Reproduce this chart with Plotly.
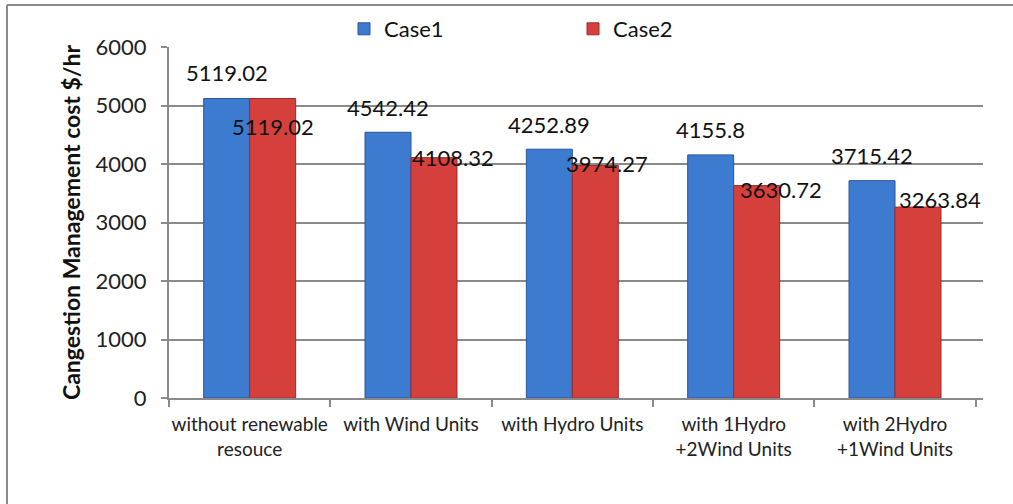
import plotly.graph_objects as go

categories = ["without renewable<br>resouce", "with Wind Units", "with Hydro Units",
              "with 1Hydro<br>+2Wind Units", "with 2Hydro<br>+1Wind Units"]
case1 = [5119.02, 4542.42, 4252.89, 4155.8, 3715.42]
case2 = [5119.02, 4108.32, 3974.27, 3630.72, 3263.84]
series_names = ["Case1", "Case2"]
y_ticks = [0, 1000, 2000, 3000, 4000, 5000, 6000]

# label pixel offsets (style): (dx, dy) relative to bar centre / top
case1_label_shift = [(0, 26), (0, 25), (0, 25), (0, 25), (0, 25)]
case2_label_shift = [(0, -28), (19, 0), (12, 2), (24, -4), (22, 8)]

W, H = 1013, 504
ml, mr, mt, mb = 169, 30, 47, 106
pw, ph = W - ml - mr, H - mt - mb

FONT = "Lato, 'DejaVu Sans', sans-serif"
blue, red = "#3D7BD1", "#D6403C"

fig = go.Figure()
fig.add_trace(go.Bar(x=categories, y=case1, name=series_names[0],
                     marker=dict(color=blue, line=dict(color="#2A5598", width=1))))
fig.add_trace(go.Bar(x=categories, y=case2, name=series_names[1],
                     marker=dict(color=red, line=dict(color="#9E2A27", width=1))))

bar_off = 23
ann = []
for i, c in enumerate(categories):
    dx, dy = case1_label_shift[i]
    ann.append(dict(x=c, y=case1[i], xref="x", yref="y", text=f"{case1[i]:g}",
                    showarrow=False, xshift=-bar_off + dx, yshift=dy,
                    xanchor="center", yanchor="middle",
                    font=dict(family=FONT, size=22, color="#111")))
    dx, dy = case2_label_shift[i]
    ann.append(dict(x=c, y=case2[i], xref="x", yref="y", text=f"{case2[i]:g}",
                    showarrow=False, xshift=bar_off + dx, yshift=dy,
                    xanchor="center", yanchor="middle",
                    font=dict(family=FONT, size=22, color="#111")))

# border: left and top edges visible, extends beyond right/bottom
border_shapes = [
    dict(type="line", xref="paper", yref="paper",
         x0=(7 - ml) / pw, x1=(7 - ml) / pw, y0=(H - mb - (H + 5)) / ph, y1=(H - mb - 5) / ph,
         line=dict(color="#8a8a8a", width=2)),
    dict(type="line", xref="paper", yref="paper",
         x0=(7 - ml) / pw, x1=(W + 5 - ml) / pw, y0=(H - mb - 5) / ph, y1=(H - mb - 5) / ph,
         line=dict(color="#8a8a8a", width=2)),
]

fig.update_layout(
    width=W, height=H,
    margin=dict(l=ml, r=mr, t=mt, b=mb, autoexpand=False),
    paper_bgcolor="white", plot_bgcolor="white",
    barmode="group", bargap=0.43, bargroupgap=0,
    font=dict(family=FONT, color="#222"),
    showlegend=True,
    legend=dict(orientation="h", x=(344 - ml) / pw, xanchor="left",
                y=(H - mb - 29) / ph, yanchor="middle",
                font=dict(family=FONT, size=22, color="#111"),
                entrywidth=184, entrywidthmode="pixels",
                bgcolor="rgba(0,0,0,0)"),
    annotations=ann,
    shapes=border_shapes,
)

fig.update_xaxes(showline=True, linecolor="#8a8a8a", linewidth=2,
                 ticks="outside", tickson="boundaries", ticklen=7, tickcolor="#8a8a8a",
                 tickwidth=2, showgrid=False, automargin=False, tickangle=0,
                 ticklabelstandoff=8,
                 tickfont=dict(family=FONT, size=19, color="#222"))
fig.update_yaxes(range=[0, 6000], tickvals=y_ticks, showline=True, linecolor="#8a8a8a",
                 linewidth=2, ticks="outside", ticklen=6, tickcolor="#8a8a8a", tickwidth=2,
                 showgrid=True, gridcolor="#8a8a8a", gridwidth=1.5, zeroline=False,
                 ticklabelstandoff=10, automargin=False,
                 tickfont=dict(family=FONT, size=22, color="#222"),
                 title=dict(text="<b>Cangestion Management cost $/hr</b>",
                            font=dict(family=FONT, size=23, color="#111"), standoff=9))

fig.write_html("out.html", config={"displayModeBar": False},
               post_script="document.body.style.margin='0';document.body.style.overflow='hidden';")
